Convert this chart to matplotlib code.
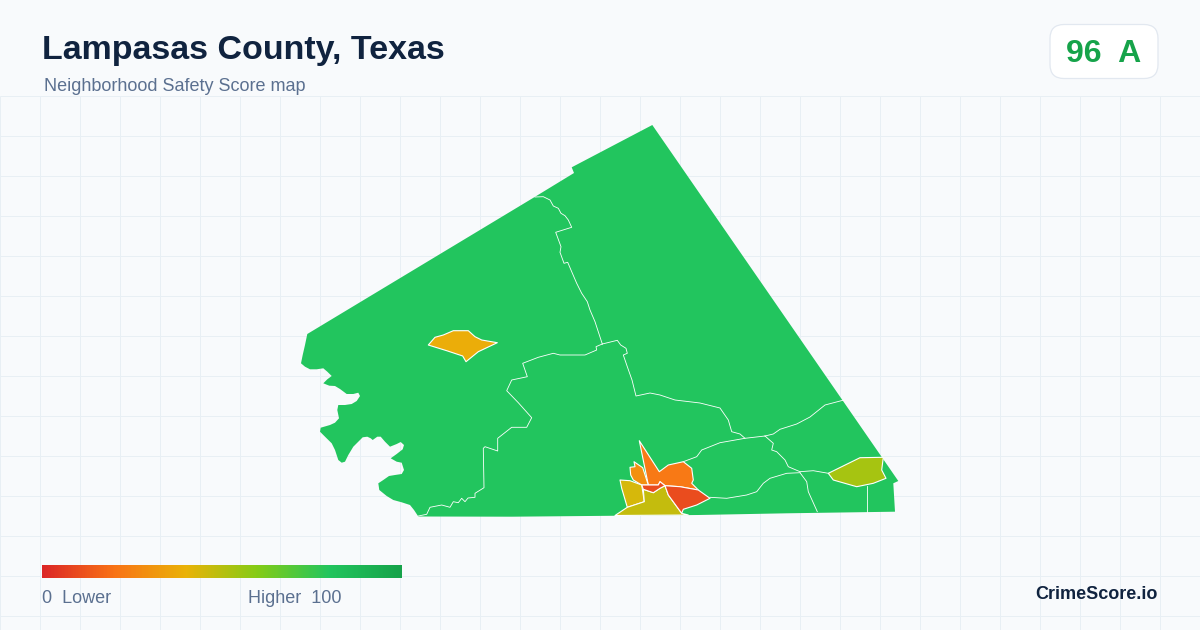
import numpy as np
import matplotlib
matplotlib.use("Agg")
import matplotlib.pyplot as plt
from matplotlib.colors import LinearSegmentedColormap
from matplotlib.patches import FancyBboxPatch, Polygon

plt.rcParams['font.family'] = ['Liberation Sans', 'DejaVu Sans']

TITLE = "Lampasas County, Texas"
SUBTITLE = "Neighborhood Safety Score map"
BADGE = "96  A"
BRAND = "CrimeScore.io"
LOW_LABEL = "0  Lower"
HIGH_LABEL = "Higher  100"

GRADIENT_STOPS = [0.0, 0.2, 0.4, 0.6, 0.8, 1.0]
GRADIENT_COLORS = ["#dc2626", "#f97316", "#eab308", "#84cc16", "#22c55e", "#16a34a"]

COUNTY_SCORE = 80
COUNTY = [(652.3,125),(571.7,167.3),(574,173),(535,196.8),(307.3,334),(305,345),(302.7,355),(301,363.3),
 (305,366.7),(310,369.3),(316.7,369.3),(323.3,368.3),(327.3,371.7),(331.7,376),(327.3,379.3),(323.3,383.3),
 (329.3,385.7),(335,386),(340,389),(346.7,394),(353.3,394),(358.3,392.7),(360,396),(356.7,401),(351.7,404),
 (345,405),(338.3,405),(337.3,410),(339,418.3),(335,422.7),(330,425),(320.7,427.7),(320,431.7),(325,436.7),
 (331.7,443.3),(335,450),(338.3,460),(341.7,462.7),(345,461.7),(348.3,455),(353.3,446.7),(358.3,441.7),
 (362.7,437.3),(367.3,436.7),(370.7,438.3),(372.7,440),(377.3,436.7),(380.7,436.7),(385,441.7),(390,446.7),
 (396.7,444),(400.7,442),(404,445),(402.7,449.3),(396.7,454),(390.7,458.3),(396.7,461.7),(401.7,462.7),
 (404,470),(401.7,474),(395,475),(389,476),(383.3,480),(378.3,483.3),(379.3,490),(386.7,496),(393.3,500),
 (401.7,502.3),(410,505),(414,510),(418.3,516.5),(511.7,516.7),(698,515),(786.7,513.3),
 (895,511.7),(893.3,483.3),(898.3,481)]

BOUNDARIES = [
 [(535,197),(543.3,196.7),(550,200),(553.3,206),(558.3,208.3),(561,213.3),(565,215.7),(568.3,220),
  (571.7,227.3),(555.7,232.3),(561,246.7),(560,252.3),(564,263.3),(567.7,262.3),(571.7,271.7),(576.7,283.3),
  (581.7,293.3),(587.3,301.7),(590,310),(595,321.7),(602.3,344)],
 [(602.3,344),(596,346.7),(596.7,350),(585,355),(560,355),(553.3,353.3),(538.3,357.3),(522.7,363.3),
  (527.3,376.7),(511.7,380),(506.7,390.7),(518.3,402.7),(531.7,417.7),(526.7,427.3),(511.7,427.3),
  (497.7,438.3),(497.7,451),(485,446.7),(483.3,448.3),(484,487.7),(475,493.3),(475,497.3),(468,498),
  (465,501.7),(461.7,498.3),(458.3,502.7),(453.3,501.7),(450,507.3),(441.7,505),(430,507.3),(426.7,514.3),(418.3,516)],
 [(602.3,344),(617.3,340.3),(620.7,345),(626,348.3),(627.3,353.3),(623.3,355),(627.3,366.7),(632,380),
  (636,396),(650,393),(660,395),(675,400),(700,403),(720,408),(728.3,420),(731.7,431.7),(740,434),(745,438.3),(765,436)],
 [(765,436),(773.3,434),(780,429.3),(796.7,424),(810,417),(825,405),(844,400)],
 [(745,438.3),(720,442.7),(701.7,450),(696.7,456.7),(683.3,461.7)],
 [(765,436),(773.3,443.3),(771.7,450),(776.7,451.7),(785,460),(788.3,466.7),(800,471.7),(813.3,470.7),(828.3,473.3)],
 [(800,472.7),(786.7,473.3),(770,478.3),(763.3,483.3),(756.7,491.7),(746.7,495),(726.7,498.3),(710,497.3)],
 [(800,472.7),(806.7,481.7),(808.3,491.7),(817.3,511.7)],
 [(866.7,486),(866.7,511.7)],
]

REGION_SCORES = [53.5, 38, 22, 29, 44, 47.5, 10, 10]
REGIONS = [
 [(828.3,473.3),(860,457.7),(883.3,457.3),(881.7,470),(886,478.3),(873.3,483.3),(856.7,486.7),(833.3,480)],
 [(428.3,345),(435,337.3),(443.3,335),(453.3,330.7),(468.3,330.7),(475,336.7),(481.7,340),(497.3,342.7),
  (478.3,351.7),(466,361.7),(462.7,356),(446.7,350.7)],
 [(639.3,440.7),(659.3,471.7),(668.3,465),(683.3,461.7),(691.7,468.3),(693.3,480),(691.7,483.3),(698.3,490),
  (680,486.7),(665,485.7),(660,481.7),(658.3,485),(648.3,485)],
 [(630,467.3),(635,466.7),(634,461.7),(642.7,467.7),(648.3,485),(641.7,485),(633.3,480),(630.7,475)],
 [(620,480),(630,480.7),(641.7,485),(644.3,501.7),(627.3,507.3),(621.7,488.3)],
 [(615,515.5),(627.3,507.3),(644.3,501.7),(643.3,489.3),(653.3,492.7),(660,488.3),(665,485.7),(668.3,495),
  (681.7,513.3),(688.3,515)],
 [(665,485.7),(680,486.7),(698.3,490),(710,498.3),(696.7,505),(683.3,509.3),(681.7,513.3),(668.3,495)],
 [(641.7,485),(648.3,485),(658.3,485),(660,481.7),(665,485.7),(660,488.3),(653.3,492.7),(643.3,489.3)],
]

GRID_X = np.arange(0, 1200, 40)
GRID_Y = np.arange(96, 630, 40)

cmap = LinearSegmentedColormap.from_list("score", list(zip(GRADIENT_STOPS, GRADIENT_COLORS)))

fig = plt.figure(figsize=(12, 6.3), dpi=100, facecolor="#f8fafc")
ax = fig.add_axes([0, 0, 1, 1])
ax.set_xlim(0, 1200)
ax.set_ylim(630, 0)
ax.axis("off")

ax.vlines(GRID_X, 96, 630, color="#e8eff4", lw=0.72, zorder=1)
ax.hlines(GRID_Y, 0, 1200, color="#e8eff4", lw=0.72, zorder=1)

ax.add_patch(Polygon(COUNTY, closed=True, fc=cmap(COUNTY_SCORE / 100), ec="none", zorder=2))
for line in BOUNDARIES:
    xs, ys = zip(*line)
    ax.plot(xs, ys, color="white", lw=0.6, solid_joinstyle="round", zorder=3)
for pts, score in zip(REGIONS, REGION_SCORES):
    ax.add_patch(Polygon(pts, closed=True, fc=cmap(score / 100), ec="white", lw=0.8, joinstyle="round", zorder=4))

ax.text(42, 59.5, TITLE, fontsize=24.45, fontweight="bold", color="#10233f", ha="left", va="baseline", zorder=6)
ax.text(44, 91, SUBTITLE, fontsize=12.95, color="#5b7090", ha="left", va="baseline", zorder=6)

ax.add_patch(FancyBboxPatch((1050, 24.5), 108, 54, boxstyle="round,pad=0,rounding_size=14",
                            fc="white", ec="#e2e8f0", lw=0.9, zorder=5))
ax.text(1066, 62, BADGE, fontsize=23, fontweight="bold", color="#16a34a", ha="left", va="baseline", zorder=6)

ax.imshow(np.linspace(0, 1, 360)[None, :], cmap=cmap, extent=(42, 402, 578, 565), aspect="auto",
          interpolation="bilinear", zorder=5)
ax.set_xlim(0, 1200)
ax.set_ylim(630, 0)
ax.text(42, 603, LOW_LABEL, fontsize=12.95, color="#5b7090", ha="left", va="baseline", zorder=6)
ax.text(342, 603, HIGH_LABEL, fontsize=12.95, color="#5b7090", ha="right", va="baseline", zorder=6)
ax.text(1158, 599, BRAND, fontsize=13, fontweight="bold", color="#10233f", ha="right", va="baseline", zorder=6)

fig.savefig("out.png", dpi=100, facecolor=fig.get_facecolor())
